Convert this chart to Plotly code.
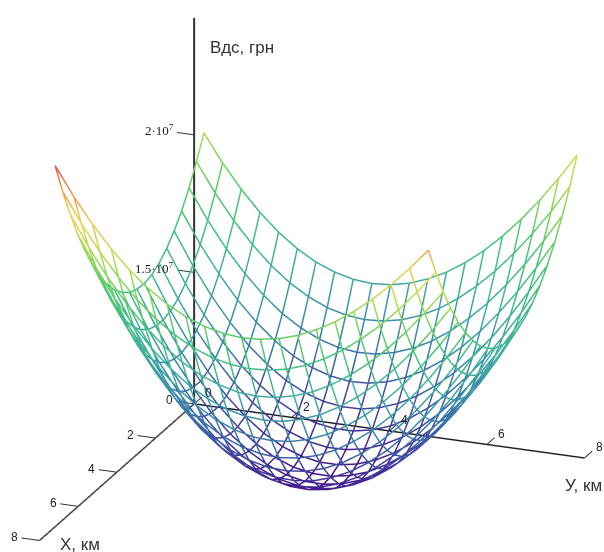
import plotly.graph_objects as go

x_grid = [0, .385, .77, 1.155, 1.54, 1.925, 2.31, 2.695, 3.08, 3.465, 3.85, 4.235, 4.62, 5.005, 5.39, 5.775, 6.16, 6.545, 6.93, 7.315, 7.7]
y_grid = [.2, .583, .965, 1.348, 1.73, 2.113, 2.495, 2.878, 3.26, 3.643, 4.025, 4.408, 4.79, 5.173, 5.555, 5.938, 6.32, 6.703, 7.085, 7.468, 7.85]
# surface heights in units of 1e4
z_rows = [
 [2012,1912,1826,1751,1689,1638,1599,1572,1555,1549,1554,1569,1594,1628,1672,1725,1787,1858,1937,2025,2120],
 [1931,1827,1736,1658,1592,1538,1497,1467,1449,1442,1446,1460,1485,1520,1565,1620,1684,1757,1839,1929,2028],
 [1860,1752,1657,1576,1507,1450,1407,1375,1355,1347,1350,1365,1390,1425,1471,1527,1592,1668,1752,1845,1947],
 [1800,1688,1590,1505,1434,1375,1329,1296,1275,1265,1268,1282,1307,1343,1389,1446,1513,1590,1676,1772,1876],
 [1751,1635,1534,1447,1372,1312,1264,1229,1207,1197,1198,1212,1237,1273,1320,1377,1445,1523,1611,1709,1815],
 [1712,1593,1489,1400,1323,1261,1212,1175,1152,1141,1142,1155,1179,1216,1263,1321,1390,1469,1558,1657,1765],
 [1683,1562,1456,1364,1286,1222,1171,1134,1109,1097,1098,1110,1135,1171,1218,1277,1346,1426,1516,1616,1725],
 [1664,1542,1434,1341,1261,1196,1144,1105,1080,1067,1067,1079,1103,1139,1186,1245,1314,1394,1485,1586,1696],
 [1656,1532,1423,1329,1248,1182,1129,1089,1063,1050,1049,1061,1084,1120,1167,1225,1294,1375,1465,1566,1677],
 [1659,1534,1424,1329,1247,1180,1126,1086,1059,1045,1044,1055,1078,1113,1160,1218,1287,1366,1457,1557,1668],
 [1671,1546,1436,1340,1258,1190,1136,1096,1068,1054,1052,1062,1085,1119,1165,1223,1291,1370,1460,1560,1669],
 [1695,1569,1459,1363,1281,1213,1159,1118,1090,1075,1072,1082,1104,1138,1183,1240,1307,1385,1474,1573,1681],
 [1728,1603,1494,1398,1316,1248,1194,1153,1125,1109,1106,1115,1136,1169,1214,1269,1335,1412,1499,1596,1703],
 [1772,1648,1539,1444,1363,1295,1241,1200,1172,1156,1153,1161,1182,1213,1256,1310,1375,1450,1536,1631,1736],
 [1827,1704,1596,1503,1422,1355,1301,1260,1232,1216,1212,1220,1239,1270,1312,1364,1427,1500,1583,1676,1779],
 [1891,1771,1665,1572,1493,1427,1374,1333,1305,1289,1284,1292,1310,1339,1380,1430,1491,1562,1643,1733,1832],
 [1967,1849,1745,1654,1576,1511,1459,1419,1391,1374,1370,1376,1393,1421,1460,1509,1567,1635,1713,1800,1895],
 [2052,1937,1836,1747,1671,1608,1556,1517,1489,1473,1468,1473,1490,1516,1553,1599,1655,1720,1795,1878,1969],
 [2148,2036,1938,1852,1778,1716,1666,1628,1601,1584,1579,1584,1599,1623,1658,1702,1755,1817,1887,1966,2053],
 [2254,2147,2052,1969,1897,1837,1789,1751,1725,1709,1703,1707,1720,1743,1776,1817,1867,1925,1992,2066,2148],
 [2371,2268,2177,2097,2028,1971,1924,1888,1862,1846,1839,1843,1855,1876,1906,1944,1991,2045,2107,2176,2252],
]
z_grid = [[v / 1000 for v in row] for row in z_rows]

x_ticks = [2, 4, 6, 8]
y_ticks = [0, 2, 4, 6, 8]
z_ticks = [1.5, 2.0]
z_tick_labels = ['1.5·10<sup>7</sup>', '2·10<sup>7</sup>']
titles = [('Вдс, грн', 242, 47), ('У, км', 583, 485), ('X, км', 80, 544)]

cs = [[0, '#46108a'], [.12, '#3f3f9e'], [.28, '#3a86ad'], [.42, '#3fb0a0'], [.58, '#45c870'],
      [.72, '#a0da55'], [.84, '#efd650'], [.93, '#efa050'], [1, '#dd5a50']]

fig = go.Figure()

def wire(xs, ys, zs):
    fig.add_trace(go.Scatter3d(x=xs, y=ys, z=zs, mode='lines', showlegend=False, hoverinfo='skip',
                               line=dict(width=3, color=zs, colorscale=cs, cmin=1.04, cmax=2.36)))

n = len(x_grid)
for i in range(n):
    wire([x_grid[i]] * n, y_grid, z_grid[i])
for j in range(n):
    wire(x_grid, [y_grid[j]] * n, [z_grid[i][j] for i in range(n)])

z0 = 1.022
ztop = 2.425

def seg(xs, ys, zs, w, c):
    fig.add_trace(go.Scatter3d(x=xs, y=ys, z=zs, mode='lines', showlegend=False, hoverinfo='skip',
                               line=dict(width=w, color=c)))

seg([0, 0], [0, 0], [z0, ztop], 4, '#333333')
seg([0, 8], [0, 0], [z0, z0], 3, '#444444')
seg([0, 0], [0, 8], [z0, z0], 3, '#222222')

sans = dict(family='Liberation Sans', size=12, color='#222')
serif = dict(family='Liberation Serif', size=13, color='#222')
ann = []
for t in x_ticks:
    seg([t, t], [0, -.37], [z0, z0], 2, '#333333')
    ann.append(dict(x=t, y=-.37, z=z0, text=str(t), showarrow=False, xshift=-7, yshift=1, font=sans))
seg([0, 0], [0, -.37], [z0, z0], 2, '#333333')
ann.append(dict(x=0, y=-.37, z=z0, text='0', showarrow=False, xshift=-7, yshift=1, font=sans))
for t in y_ticks:
    seg([0, -.4], [t, t], [z0, z0], 2, '#333333')
    ann.append(dict(x=-.4, y=t, z=z0, text=str(t), showarrow=False, xshift=7, yshift=4, font=sans))
for t, l in zip(z_ticks, z_tick_labels):
    seg([0, 0], [0, -.35], [t, t], 2, '#333333')
    ann.append(dict(x=0, y=-.35, z=t, text=l, showarrow=False, xanchor='right', xshift=-1, yshift=2, font=serif))

fig.update_layout(
    width=604, height=552, margin=dict(l=0, r=0, t=0, b=0), paper_bgcolor='white',
    annotations=[dict(text=t, x=a / 604, y=1 - b / 552, xref='paper', yref='paper', xanchor='center',
                      yanchor='middle', showarrow=False,
                      font=dict(family='Liberation Sans', size=17, color='#333')) for t, a, b in titles],
    scene=dict(
        domain=dict(x=[0, 1], y=[0, 1]),
        xaxis=dict(visible=False, range=[-1.1, 8.42]),
        yaxis=dict(visible=False, range=[-1.1, 8.42]),
        zaxis=dict(visible=False, range=[.984, 2.624]),
        aspectmode='manual', aspectratio=dict(x=1.81, y=1.81, z=1.745),
        camera=dict(eye=dict(x=.871 * 1.9, y=.345 * 1.9, z=.35 * 1.9), up=dict(x=0, y=0, z=1),
                    center=dict(x=0, y=0, z=0), projection=dict(type='orthographic')),
        annotations=ann))
fig.write_html('out.html', post_script="document.body.style.margin='0';", config=dict(displayModeBar=False))
